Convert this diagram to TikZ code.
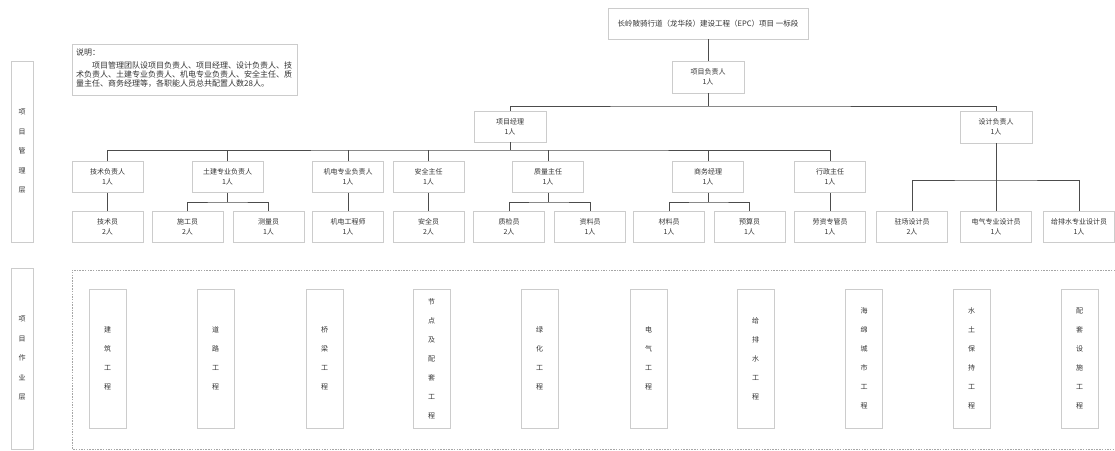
\documentclass[tikz,border=0pt]{standalone}
\usepackage{fontspec}
\setmainfont{Noto Sans CJK SC}
\begin{document}
\begin{tikzpicture}[x=1pt,y=-1pt,
  txtc/.style={text=black!80},
  box/.style={draw=black!20,line width=0.7pt,minimum width=71pt,minimum height=31pt,
    inner sep=0pt,align=center,font=\fontsize{7}{10}\selectfont,text=black!80},
  vbox/.style={draw=black!20,line width=0.7pt,minimum width=37pt,minimum height=139pt,
    inner sep=0pt,align=center,font=\fontsize{7}{19}\selectfont,text=black!80},
  lbox/.style={draw=black!20,line width=0.7pt,minimum width=22pt,minimum height=181pt,
    inner sep=0pt,align=center,font=\fontsize{7}{19.5}\selectfont,text=black!80},
  conn/.style={draw=black!70,line width=0.8pt}]
\useasboundingbox (0,0) rectangle (1115,450);
\fill[white] (0,0) rectangle (1115,450);

% title and top
\node[box,minimum width=200pt,minimum height=31pt,font=\fontsize{7.5}{10}\selectfont] (title) at (708,23.5) {长岭陂骑行道（龙华段）建设工程（EPC）项目 一标段};
\node[box,minimum width=72pt,minimum height=32pt] (pm) at (708,77) {项目负责人\\1人};
\node[box,minimum width=72pt] (mgr) at (510,126.5) {项目经理\\1人};
\node[box,minimum width=72pt,minimum height=32pt] (dsn) at (996,127) {设计负责人\\1人};

% description
\node[draw=black!20,line width=0.7pt,minimum width=225pt,minimum height=51pt,anchor=north west] (desc) at (72,44) {};
\node[anchor=north west,align=left,inner sep=0pt,font=\fontsize{8}{9.3}\selectfont,text=black!80] (desctxt) at (76,49) {说明：\\[3pt]\hspace*{16pt}项目管理团队设项目负责人、项目经理、设计负责人、技\\术负责人、土建专业负责人、机电专业负责人、安全主任、质\\量主任、商务经理等，各职能人员总共配置人数28人。};

% left labels
\node[lbox] (lab1) at (22,151.5) {项\\目\\管\\理\\层};
\node[lbox] (lab2) at (22,358.5) {项\\目\\作\\业\\层};

% row 2
\node[box] (r1) at (107.5,177) {技术负责人\\1人};
\node[box] (r2) at (227.5,177) {土建专业负责人\\1人};
\node[box] (r3) at (348,177) {机电专业负责人\\1人};
\node[box] (r4) at (428.5,177) {安全主任\\1人};
\node[box] (r5) at (548,177) {质量主任\\1人};
\node[box] (r6) at (708,177) {商务经理\\1人};
\node[box] (r7) at (830,177) {行政主任\\1人};

% row 3
\node[box] (s1) at (107.5,227) {技术员\\2人};
\node[box] (s2) at (187.5,227) {施工员\\2人};
\node[box] (s3) at (268.5,227) {测量员\\1人};
\node[box] (s4) at (348,227) {机电工程师\\1人};
\node[box] (s5) at (428.5,227) {安全员\\2人};
\node[box] (s6) at (509,227) {质检员\\2人};
\node[box] (s7) at (590,227) {资料员\\1人};
\node[box] (s8) at (669,227) {材料员\\1人};
\node[box] (s9) at (749.5,227) {预算员\\1人};
\node[box] (s10) at (830,227) {劳资专管员\\1人};
\node[box] (d1) at (912,227) {驻场设计员\\2人};
\node[box] (d2) at (996,227) {电气专业设计员\\1人};
\node[box] (d3) at (1079,227) {给排水专业设计员\\1人};

% connectors
\coordinate (b1) at (708,106);
\coordinate (b2) at (510,150);
\coordinate (b3) at (996,180);
\draw[conn] (title) -- (pm);
\draw[conn] (pm) -- (b1);
\draw[conn] (mgr.north) |- (b1) -| (dsn.north);
\draw[conn] (mgr) -- (b2);
\draw[conn] (r1.north) |- (b2) -| (r7.north);
\foreach \n in {r2,r3,r4,r5,r6}{\draw[conn] (\n.north) -- (\n.north |- b2);}
\draw[conn] (r1) -- (s1);
\draw[conn] (r3) -- (s4);
\draw[conn] (r4) -- (s5);
\draw[conn] (r7) -- (s10);
\coordinate (t2) at (227.5,202);
\coordinate (t5) at (548,202);
\coordinate (t6) at (708,202);
\draw[conn] (r2) -- (t2);
\draw[conn] (s2.north) |- (t2) -| (s3.north);
\draw[conn] (r5) -- (t5);
\draw[conn] (s6.north) |- (t5) -| (s7.north);
\draw[conn] (r6) -- (t6);
\draw[conn] (s8.north) |- (t6) -| (s9.north);
\draw[conn] (dsn) -- (d2);
\draw[conn] (d1.north) |- (b3) -| (d3.north);

% work layer
\draw[black!35,line width=0.6pt,dash pattern=on 1.5pt off 1.2pt] (1115,270) -- (72,270) -- (72,449) -- (1115,449);
\node[vbox] (w1) at (107.5,358.5) {建\\筑\\工\\程};
\node[vbox] (w2) at (215.5,358.5) {道\\路\\工\\程};
\node[vbox] (w3) at (324.5,358.5) {桥\\梁\\工\\程};
\node[vbox] (w4) at (431.5,358.5) {节\\点\\及\\配\\套\\工\\程};
\node[vbox] (w5) at (539.5,358.5) {绿\\化\\工\\程};
\node[vbox] (w6) at (648.5,358.5) {电\\气\\工\\程};
\node[vbox] (w7) at (755.5,358.5) {给\\排\\水\\工\\程};
\node[vbox] (w8) at (864,358.5) {海\\绵\\城\\市\\工\\程};
\node[vbox] (w9) at (971.5,358.5) {水\\土\\保\\持\\工\\程};
\node[vbox] (w10) at (1079.5,358.5) {配\\套\\设\\施\\工\\程};
\end{tikzpicture}
\end{document}
